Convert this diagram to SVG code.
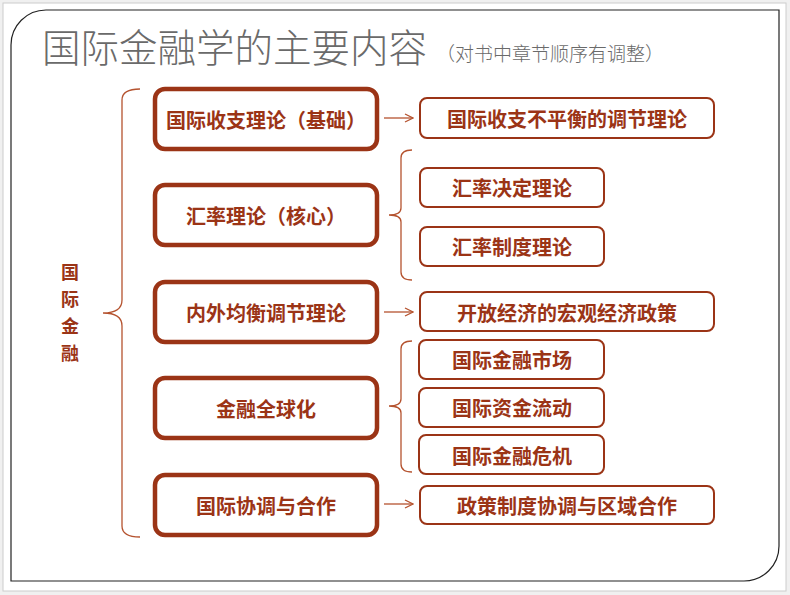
<svg xmlns="http://www.w3.org/2000/svg" width="790" height="595" viewBox="0 0 790 595">
<defs>
<style>
.t{font-family:"Noto Sans CJK SC",sans-serif;fill:#9b3416;font-size:20px;font-weight:bold;text-anchor:middle;dominant-baseline:central}
.v{font-size:18px}
.big rect{fill:#fff;stroke:#9b3416;stroke-width:4.5}
.sm rect{fill:#fff;stroke:#9b3416;stroke-width:2}
.br{fill:none;stroke:#b5532f;stroke-width:1.3}
.ar{stroke:#b5532f;stroke-width:1.3;marker-end:url(#m)}
</style>
<marker id="m" markerWidth="10" markerHeight="10" refX="9" refY="5" orient="auto" markerUnits="userSpaceOnUse"><path d="M1,1 L9,5 L1,9" fill="none" stroke="#b5532f" stroke-width="1.3"/></marker>
</defs>
<rect width="790" height="595" fill="#f0f0f0"/>
<rect x="3" y="3" width="783" height="588" fill="#fff" stroke="#ccc"/>
<path d="M46,10 H779 V546 A35,35 0 0 1 744,581 H11 V45 A35,35 0 0 1 46,10 Z" fill="#fff" stroke="#222" stroke-width="1.2"/>
<text x="42" y="62" font-family="'Noto Sans CJK SC',sans-serif" font-size="38.5" fill="#6a6a6a" font-weight="300">国际金融学的主要内容</text>
<text x="436" y="61" font-family="'Noto Sans CJK SC',sans-serif" font-size="19" fill="#6a6a6a" font-weight="300">（对书中章节顺序有调整）</text>
<g id="root"><text class="t v" x="70" y="271">国</text><text class="t v" x="70" y="298">际</text><text class="t v" x="70" y="325">金</text><text class="t v" x="70" y="352">融</text></g>
<g id="connectors">
<path class="br" d="M140,89 Q122,89 122,100 V300 Q122,313 103,313 Q122,313 122,326 V526 Q122,537 140,537"/>
<path class="br" d="M412,150 Q401,150 401,158 V208 Q401,215 389,215 Q401,215 401,222 V272 Q401,280 412,280"/>
<path class="br" d="M412,341 Q401,341 401,349 V399 Q401,406 389,406 Q401,406 401,413 V464 Q401,472 412,472"/>
<line class="ar" x1="384" y1="118" x2="413" y2="118"/>
<line class="ar" x1="384" y1="312" x2="413" y2="312"/>
<line class="ar" x1="384" y1="504" x2="413" y2="504"/>
</g>
<g id="n1" class="big"><rect x="155" y="89" width="222" height="60" rx="10"/><text class="t" x="266" y="119">国际收支理论（基础）</text></g>
<g id="n2" class="big"><rect x="155" y="185" width="222" height="60" rx="10"/><text class="t" x="266" y="215">汇率理论（核心）</text></g>
<g id="n3" class="big"><rect x="155" y="282" width="222" height="60" rx="10"/><text class="t" x="266" y="312">内外均衡调节理论</text></g>
<g id="n4" class="big"><rect x="155" y="378" width="222" height="60" rx="10"/><text class="t" x="266" y="408">金融全球化</text></g>
<g id="n5" class="big"><rect x="155" y="475" width="222" height="60" rx="10"/><text class="t" x="266" y="505">国际协调与合作</text></g>
<g id="a1" class="sm"><rect x="420" y="98" width="294" height="40" rx="7"/><text class="t" x="567" y="118">国际收支不平衡的调节理论</text></g>
<g id="b1" class="sm"><rect x="420" y="168" width="184" height="39" rx="7"/><text class="t" x="512" y="187">汇率决定理论</text></g>
<g id="b2" class="sm"><rect x="420" y="227" width="184" height="39" rx="7"/><text class="t" x="512" y="246">汇率制度理论</text></g>
<g id="c1" class="sm"><rect x="420" y="292" width="294" height="39" rx="7"/><text class="t" x="567" y="312">开放经济的宏观经济政策</text></g>
<g id="d1" class="sm"><rect x="419" y="340" width="185" height="39" rx="7"/><text class="t" x="512" y="359">国际金融市场</text></g>
<g id="d2" class="sm"><rect x="419" y="388" width="185" height="39" rx="7"/><text class="t" x="512" y="407">国际资金流动</text></g>
<g id="d3" class="sm"><rect x="419" y="435" width="185" height="39" rx="7"/><text class="t" x="512" y="455">国际金融危机</text></g>
<g id="e1" class="sm"><rect x="420" y="486" width="294" height="38" rx="7"/><text class="t" x="567" y="505">政策制度协调与区域合作</text></g>
</svg>
